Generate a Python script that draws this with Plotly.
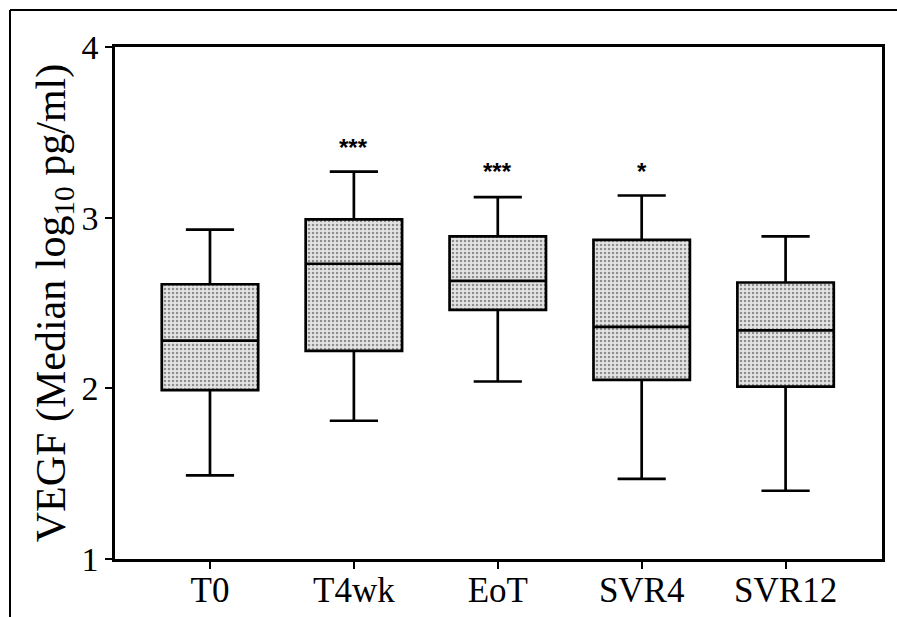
import plotly.graph_objects as go

categories = ["T0", "T4wk", "EoT", "SVR4", "SVR12"]
lower_whisker = [1.49, 1.81, 2.04, 1.47, 1.40]
q1_values = [1.99, 2.22, 2.46, 2.05, 2.01]
median_values = [2.28, 2.73, 2.63, 2.36, 2.34]
q3_values = [2.61, 2.99, 2.89, 2.87, 2.62]
upper_whisker = [2.93, 3.27, 3.12, 3.13, 2.89]
significance = ["", "***", "***", "*", ""]
significance_y = [None, 3.41, 3.27, 3.27, None]
y_ticks = [1, 2, 3, 4]

W, H = 897, 617
ML, MR, MT, MB = 115, 15, 47, 58
PW, PH = W - ML - MR, H - MT - MB
BOX_W = 0.67
SERIF = "Liberation Serif, Times New Roman, Times, serif"

fig = go.Figure()

# dotted fill of the boxes
fig.add_trace(go.Bar(
    x=categories,
    y=[q3 - q1 for q1, q3 in zip(q1_values, q3_values)],
    base=q1_values,
    width=BOX_W,
    marker=dict(color="white", line=dict(width=0),
                pattern=dict(shape=".", fgcolor="#3a3a3a", bgcolor="#e4e4e4",
                             size=4, solidity=0.3)),
    hoverinfo="skip",
    showlegend=False,
))

fig.add_trace(go.Box(
    x=categories,
    q1=q1_values,
    median=median_values,
    q3=q3_values,
    lowerfence=lower_whisker,
    upperfence=upper_whisker,
    boxpoints=False,
    width=BOX_W,
    fillcolor="rgba(0,0,0,0)",
    line=dict(color="black", width=2.7),
    whiskerwidth=0.5,
    showlegend=False,
))

for cat, txt, yv in zip(categories, significance, significance_y):
    if txt:
        fig.add_annotation(x=cat, y=yv, text="<b>" + txt + "</b>", showarrow=False,
                           font=dict(family="Liberation Sans, Arial, sans-serif",
                                     size=24, color="black"),
                           yanchor="middle")

# outer figure frame (top and left edges)
def px_x(px):
    return (px - ML) / PW

def px_y(py):
    return 1 - (py - MT) / PH

fig.add_shape(type="line", xref="paper", yref="paper",
              x0=px_x(10), x1=px_x(900), y0=px_y(10), y1=px_y(10),
              line=dict(color="black", width=2))
fig.add_shape(type="line", xref="paper", yref="paper",
              x0=px_x(10), x1=px_x(10), y0=px_y(10), y1=px_y(620),
              line=dict(color="black", width=2))

fig.update_layout(
    width=W, height=H,
    margin=dict(l=ML, r=MR, t=MT, b=MB, autoexpand=False),
    paper_bgcolor="white", plot_bgcolor="white",
    barmode="overlay", boxmode="overlay",
    font=dict(family=SERIF, color="black"),
    xaxis=dict(
        type="category", range=[-0.66, 4.67], automargin=False,
        showline=True, linecolor="black", linewidth=2.5, mirror=True,
        ticks="outside", ticklen=7, tickwidth=2, tickcolor="black",
        showgrid=False, zeroline=False, ticklabelstandoff=-9,
        tickfont=dict(family=SERIF, size=35, color="black"),
    ),
    yaxis=dict(
        range=[1, 4], tickvals=y_ticks, automargin=False,
        showline=True, linecolor="black", linewidth=2.5, mirror=True,
        ticks="outside", ticklen=7, tickwidth=2, tickcolor="black",
        showgrid=False, zeroline=False,
        tickfont=dict(family=SERIF, size=34, color="black"),
        title=dict(text="VEGF (Median log<sub>10</sub> pg/ml)", standoff=3,
                   font=dict(family=SERIF, size=42, color="black")),
    ),
)

fig.write_html("out.html")
